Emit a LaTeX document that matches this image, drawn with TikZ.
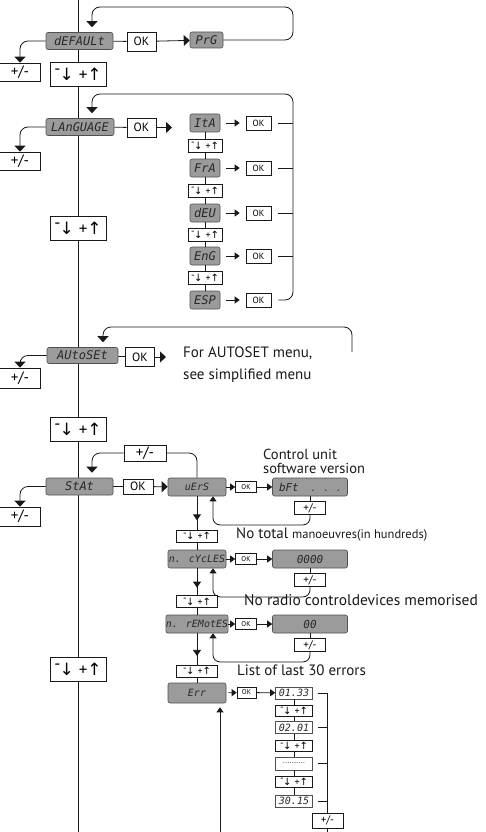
\documentclass[tikz,border=0pt]{standalone}
\usepackage{fontspec}
\setmainfont{PT Sans}
\newfontfamily\lcdfont{DejaVu Sans Mono}
\newfontfamily\symfont{DejaVu Sans}
\usepackage{xcolor}
\definecolor{LcdGray}{RGB}{155,155,155}
\definecolor{LcdEdge}{RGB}{80,80,80}
\definecolor{LcdInk}{RGB}{40,40,40}
\definecolor{Ink}{RGB}{25,25,25}
\usepackage{tikz}
\usetikzlibrary{
  arrows.meta,
  positioning, calc,
  decorations.markings
}
\newcommand{\updn}{\raisebox{0.7ex}{-}\kern-0.05em{\symfont ↓}\hspace{0.3em}+{\symfont ↑}}
\tikzset{
  % LCD display field
  lcd/.style={
    rectangle, rounded corners=2pt,
    draw=LcdEdge, line width=0.6pt,
    fill=LcdGray, text=LcdInk,
    inner sep=0pt, minimum height=17pt,
    font=\lcdfont\fontsize{12}{12}\selectfont\itshape
  },
  % white field with LCD digits
  valbox/.style={lcd, rounded corners=0pt, fill=white,
    minimum width=37pt, minimum height=12pt,
    font=\lcdfont\fontsize{10}{10}\selectfont\itshape},
  % key boxes
  key/.style={
    rectangle, draw=Ink, line width=0.6pt, fill=white,
    inner sep=0pt, font=\fontsize{12}{12}\selectfont
  },
  okbox/.style={key, minimum width=29pt, minimum height=19pt},
  okmini/.style={key, minimum width=21pt, minimum height=11pt, font=\fontsize{7}{7}\selectfont},
  pmbox/.style={key, minimum width=41pt, minimum height=18pt, font=\fontsize{15}{15}\selectfont},
  pmmini/.style={key, minimum width=31pt, minimum height=13pt, font=\fontsize{11}{11}\selectfont},
  udbox/.style={key, minimum width=56pt, minimum height=24pt, font=\fontsize{17}{17}\selectfont},
  udmini/.style={key, minimum width=34pt, minimum height=13pt, font=\fontsize{10}{10}\selectfont},
  % side notes
  note/.style={anchor=base west, inner sep=0pt, font=\fontsize{15}{15}\selectfont, text=Ink},
  % lines and arrows
  wire/.style={line width=0.8pt, draw=Ink},
  spine/.style={line width=1.5pt, draw=Ink},
  arr/.style={wire, -{Triangle[length=6pt,width=11pt]}},
  sarr/.style={wire, -{Triangle[length=5pt,width=7pt]}},
  midarr/.style={postaction={decorate}, decoration={markings,
    mark=at position 0.72 with {\arrow{Triangle[length=6pt,width=8pt]}}}},
}

\begin{document}
\begin{tikzpicture}[x=1pt, y=-1pt]
  \useasboundingbox (0,0) rectangle (486,832);

  %% Spine
  \coordinate (spinetop) at (78.5,0);
  \coordinate (spinebot) at (78.5,832);
  \draw[spine] (spinetop) -- (spinebot);

  %% DEFAULT
  \node[lcd, minimum width=67pt] (dflt) at (79.5,41) {dEFAULt};
  \node[okbox] (okdflt) at (141.5,41.5) {OK};
  \node[lcd, minimum width=33pt, minimum height=16pt] (prg) at (206.5,40) {PrG};
  \node[pmbox] (pmdflt) at (20,72) {+/-};
  \node[udbox] (uddflt) at (78,74) {\updn};
  \draw[wire] (dflt) -- (okdflt);
  \draw[arr] (okdflt) -- (prg);
  \draw[arr, rounded corners=8pt] (dflt.west) -| (pmdflt.north);
  \draw[arr, rounded corners=8pt, shorten >=5pt] (prg.east) -| (293,7) -| ([xshift=12.5pt]dflt.north);

  %% LANGUAGE
  \node[lcd, minimum width=68pt] (lang) at (80,127) {LAnGUAGE};
  \node[okbox] (oklang) at (141.5,127.5) {OK};
  \coordinate (langtip) at (172,127.5);
  \node[pmbox] (pmlang) at (20,161) {+/-};
  \node[udbox] (udlang) at (78,228.5) {\updn};
  \draw[wire] (lang) -- (oklang);
  \draw[arr] (oklang) -- (langtip);
  \draw[arr, rounded corners=8pt] (lang.west) -| (pmlang.north);

  \foreach \name/\lbl/\y in {ita/ItA/123, fra/FrA/168, deu/dEU/213, eng/EnG/256, esp/ESP/300}{
    \node[lcd, minimum width=30pt, minimum height=18pt] (\name) at (205,\y) {\lbl};
    \node[okbox, minimum width=25pt, minimum height=14pt, font=\fontsize{9}{9}\selectfont] (ok\name) at (258.5,\y) {OK};
    \draw[sarr, shorten <=6pt, shorten >=6pt] (\name) -- (ok\name);
  }
  \foreach \name/\y in {udA/145.5, udB/190.5, udC/234.5, udD/278}
    \node[udmini] (\name) at (205,\y) {\updn};
  \draw[wire] (ita) -- (udA) -- (fra) -- (udB) -- (deu) -- (udC) -- (eng) -- (udD) -- (esp);
  \coordinate (langright) at (293,94);
  \foreach \name in {ita,fra,deu,eng}
    \draw[wire] ([xshift=7pt]ok\name.east) -- (ok\name.east -| langright);
  \draw[arr, rounded corners=8pt, shorten >=5pt] ([xshift=7pt]okesp.east) -| (langright) -| ([xshift=12pt]lang.north);

  %% AUTOSET
  \node[lcd, minimum width=71pt, minimum height=16pt] (autoset) at (82.5,355.5) {AUtoSEt};
  \node[okbox] (okauto) at (140,357) {OK};
  \coordinate (autotip) at (166,357);
  \node[pmbox, minimum height=20pt] (pmauto) at (20,378) {+/-};
  \node[udbox] (udauto) at (78,429) {\updn};
  \coordinate (autoend) at (352,352);
  \draw[wire] (autoset) -- (okauto);
  \draw[arr] (okauto) -- (autotip);
  \draw[arr, rounded corners=8pt] (autoset.west) -| (pmauto.north);
  \draw[arr, rounded corners=8pt, shorten >=5pt] (autoend) |- (103,327) -- ([xshift=20.5pt]autoset.north);
  \node[note] (autonote) at (183,357) {For AUTOSET menu,};
  \node[note] (autonote2) at (183,379) {see simplified menu};

  %% STAT
  \node[lcd, minimum width=67pt] (stat) at (79.5,486.5) {StAt};
  \node[okbox, minimum width=30pt, minimum height=15pt] (okstat) at (138,486.5) {OK};
  \node[pmbox, minimum width=42pt, minimum height=16pt] (pmloop) at (145,453) {+/-};
  \node[pmbox, minimum height=19pt] (pmstat) at (20,516.5) {+/-};
  \node[udbox] (udstat) at (78,669) {\updn};

  \foreach \name/\lbl/\val/\y in {
      vers/{uErS}/{\makebox[62pt][l]{bFt\hspace{12pt}{\fontsize{9}{9}\selectfont . . .}}}/487,
      cyc/{n. cYcLES}/{0000}/559,
      rem/{n. rEMotES}/{00}/624}{
    \node[lcd, minimum width=58pt, minimum height=18pt,
      font=\lcdfont\fontsize{10}{10}\selectfont\itshape] (\name) at (197,\y) {\lbl};
    \node[okmini] (ok\name) at (246,\y) {OK};
    \node[lcd, minimum width=75pt, minimum height=18pt,
      font=\lcdfont\fontsize{11}{11}\selectfont\itshape] (disp\name) at (310,\y) {\val};
    \node[pmmini, below=5pt of disp\name] (pm\name) {+/-};
    \draw[sarr] (\name) -- (ok\name);
    \draw[sarr] (ok\name) -- (disp\name);
    \draw[wire] (disp\name) -- (pm\name);
    \draw[sarr, rounded corners=7pt] (pm\name.south) -- ++(0,10) -| ([xshift=16pt]\name.south);
  }
  \draw[wire] (stat) -- (okstat);
  \draw[arr] (okstat) -- (vers);
  \draw[arr, rounded corners=8pt] (stat.west) -| (pmstat.north);
  \draw[arr, rounded corners=8pt, shorten >=5pt] (pmloop.west) -| ([xshift=12.5pt]stat.north);
  \draw[wire, rounded corners=8pt] (pmloop.east) -| (vers.north);

  \node[udmini, minimum width=41pt, minimum height=12pt] (udv) at (197,536) {\updn};
  \node[udmini, minimum width=41pt, minimum height=12pt] (udc) at (197,601.5) {\updn};
  \node[udmini, minimum width=41pt, minimum height=12pt] (udr) at (197,671) {\updn};
  \node[lcd, minimum width=58pt, minimum height=20pt,
    font=\lcdfont\fontsize{10}{10}\selectfont\itshape] (err) at (197,693) {Err};
  \draw[wire, midarr] (vers) -- (udv);
  \draw[wire] (udv) -- (cyc);
  \draw[wire, midarr] (cyc) -- (udc);
  \draw[wire] (udc) -- (rem);
  \draw[wire, midarr] (rem) -- (udr);
  \draw[wire] (udr) -- (err);

  \node[note, anchor=north west, align=left, font=\fontsize{14.5}{14}\selectfont]
    (cunote) at (263,448.5) {Control unit\\software version};
  \node[note] (totnote) at (236,538) {No total {\fontsize{12.5}{12.5}\selectfont manoeuvres(in hundreds)}};
  \node[note, font=\fontsize{15.5}{15.5}\selectfont] (radnote) at (244,605) {No radio controldevices memorised};
  \node[note] (errnote) at (237,675) {List of last 30 errors};

  %% Error list
  \node[okmini, minimum width=19pt] (okerr) at (246.5,692.5) {OK};
  \node[valbox] (e1) at (294,693) {01.33};
  \node[udmini, minimum width=37pt, minimum height=11pt] (eu1) at (294,710.5) {\updn};
  \node[valbox] (e2) at (294,727.5) {02.01};
  \node[udmini, minimum width=37pt, minimum height=11pt] (eu2) at (294,746) {\updn};
  \node[valbox, minimum height=13pt, font=\fontsize{8}{8}\selectfont] (e3) at (294,763.5) {..........};
  \node[udmini, minimum width=37pt, minimum height=11pt] (eu3) at (294,781.5) {\updn};
  \node[valbox] (e4) at (294,801) {30.15};
  \draw[sarr, shorten <=2pt] (err) -- (okerr);
  \draw[sarr] (okerr) -- (e1);
  \draw[wire] (e1) -- (eu1) -- (e2) -- (eu2) -- (e3) -- (eu3) -- (e4);
  \coordinate (errtop) at (327,693);
  \coordinate (errbot) at (327,832);
  \draw[wire] ([xshift=5pt]e1.east) -- (errtop) -- (errbot);
  \foreach \i in {2,3,4}
    \draw[wire] ([xshift=5pt]e\i.east) -- (e\i.east -| errtop);
  \node[pmmini, minimum height=15pt] (pmerr) at (327.5,820.5) {+/-};
  \coordinate (errin) at (220,832);
  \draw[sarr, shorten >=4pt] (errin) -- (errin |- err.south);
\end{tikzpicture}
\end{document}
